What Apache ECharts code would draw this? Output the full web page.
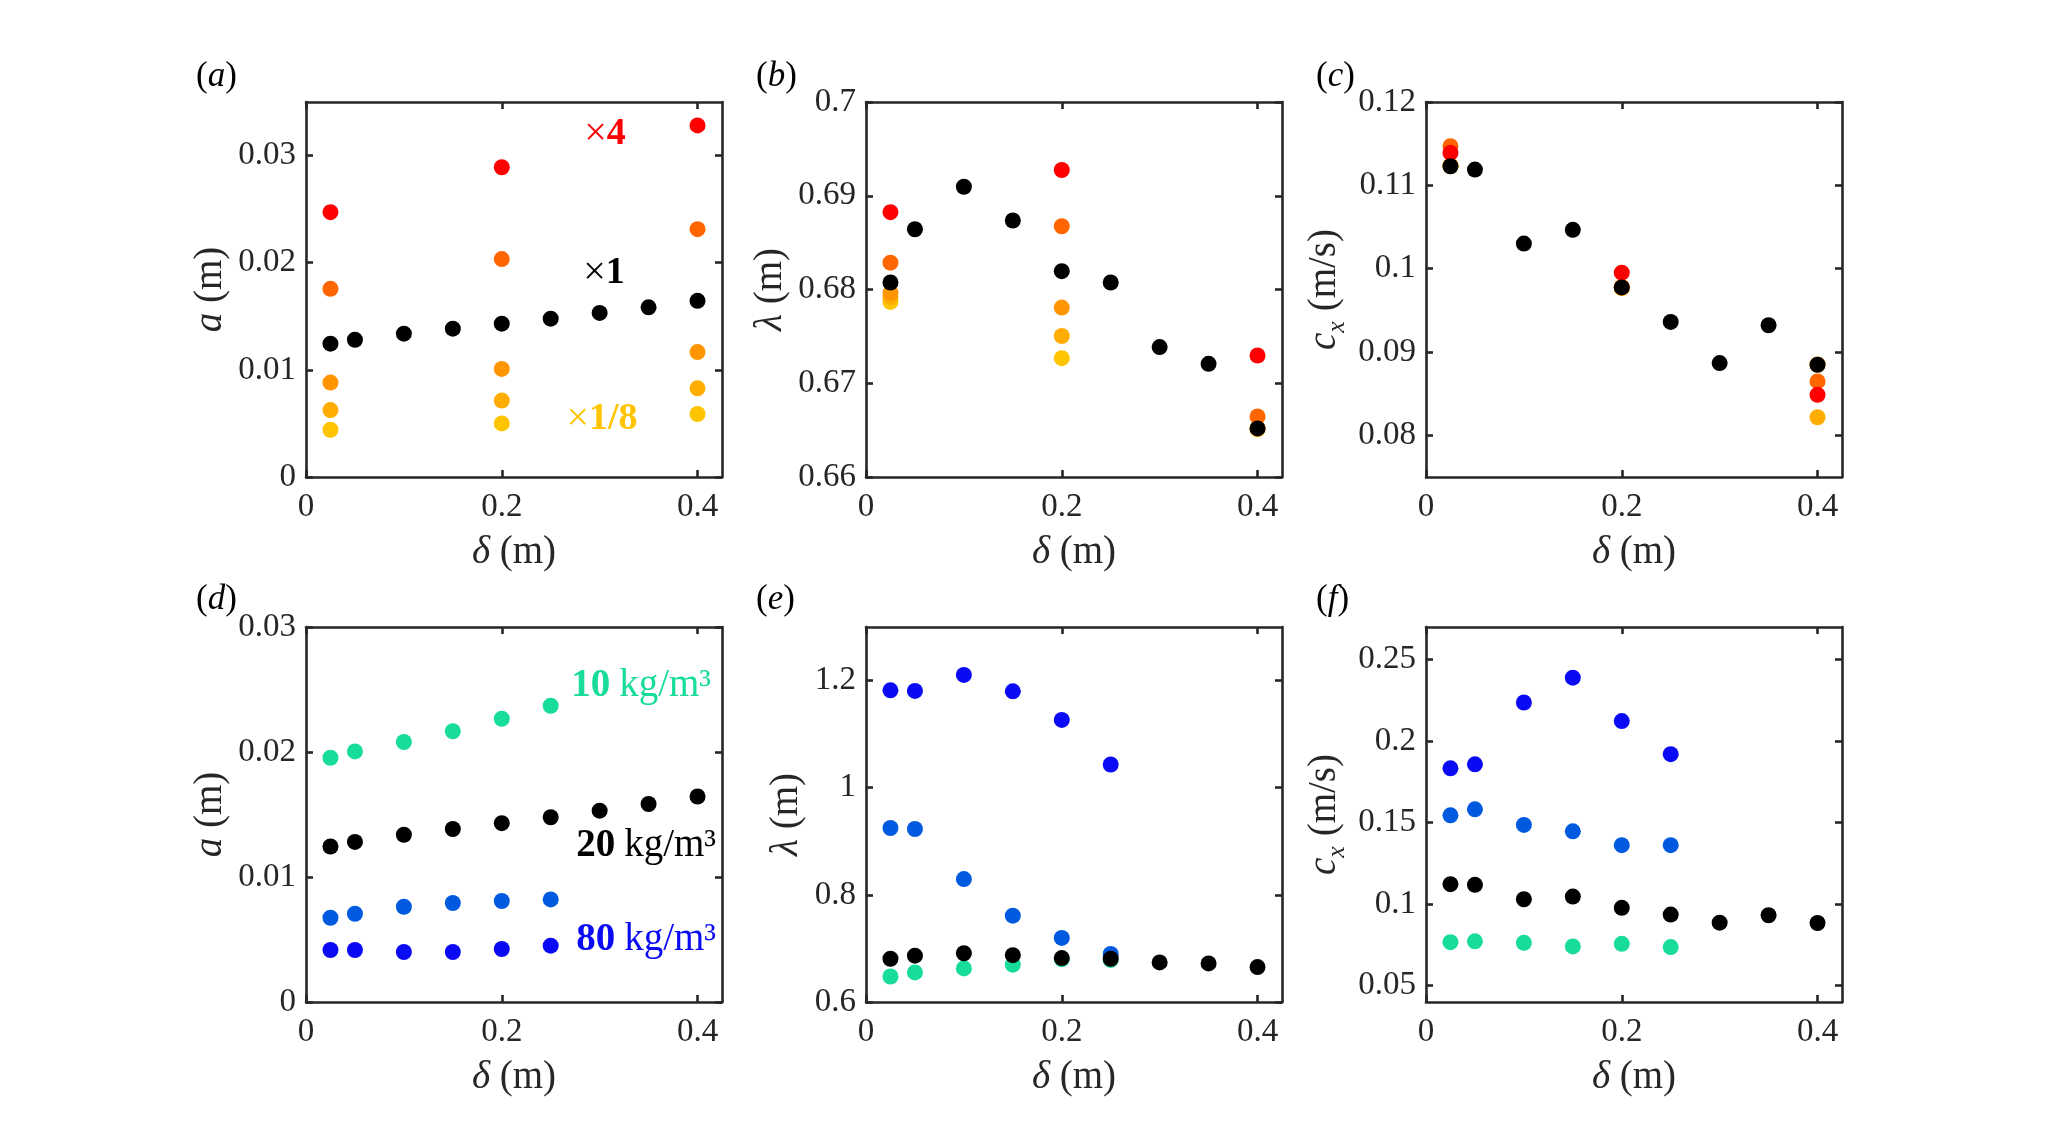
<!DOCTYPE html>
<html>
<head>
<meta charset="utf-8">
<script src="https://cdn.jsdelivr.net/npm/echarts@6.0.0/dist/echarts.min.js"></script>
<style>
  html, body { margin: 0; padding: 0; background: #fff; }
  #chart { width: 2069px; height: 1146px; }
</style>
</head>
<body>
<div id="chart"></div>
<script>
// delta (m) positions
const deltaAll = [0.025, 0.05, 0.1, 0.15, 0.2, 0.25, 0.3, 0.35, 0.4];
const deltaScaled = [0.025, 0.2, 0.4];
const deltaDensity = [0.025, 0.05, 0.1, 0.15, 0.2, 0.25];

// (a) amplitude a (m), scaled runs
const aBase = [0.01244, 0.01281, 0.01338, 0.01384, 0.01431, 0.01478, 0.01531, 0.01584, 0.01644];
const aX4 = [0.02472, 0.02891, 0.03281];
const aX2 = [0.01756, 0.02034, 0.02313];
const aX1_2 = [0.00881, 0.01009, 0.01166];
const aX1_4 = [0.00625, 0.00713, 0.00828];
const aX1_8 = [0.00441, 0.00500, 0.00588];

// (b) wavelength lambda (m)
const lamBase = [0.68075, 0.68643, 0.69096, 0.68736, 0.68196, 0.68075, 0.67386, 0.67207, 0.66518];
const lamX4 = [0.68825, 0.69275, 0.67296];
const lamX2 = [0.68286, 0.68675, 0.66646];
const lamX1_2 = [0.67964, 0.67807, 0.66520];
const lamX1_4 = [0.67921, 0.67504, 0.66515];
const lamX1_8 = [0.67868, 0.67268, 0.66510];

// (c) speed c_x (m/s)
const cBase = [0.11229, 0.11189, 0.10301, 0.10466, 0.09775, 0.09361, 0.08867, 0.09321, 0.08847];
const cX4 = [0.11390, 0.09952, 0.08486];
const cX2 = [0.11470, 0.09780, 0.08647];
const cX1_2 = [0.11235, 0.09772, 0.08850];
const cX1_4 = [0.11232, 0.09770, 0.08217];
const cX1_8 = [0.11230, 0.09768, 0.08848];

// (d)-(f) density runs, 20 kg/m3 is the base run
const aD10 = [0.01954, 0.02005, 0.02080, 0.02166, 0.02266, 0.02370];
const aD40 = [0.00674, 0.00706, 0.00762, 0.00792, 0.00808, 0.00821];
const aD80 = [0.00416, 0.00416, 0.00400, 0.00400, 0.00424, 0.00451];

const lamD10 = [0.6476, 0.6552, 0.6627, 0.6696, 0.6800, 0.6785];
const lamD40 = [0.9248, 0.9229, 0.8295, 0.7611, 0.7197, 0.6897];
const lamD80 = [1.1818, 1.1806, 1.2106, 1.1800, 1.1266, 1.0433];

const cD10 = [0.0767, 0.0772, 0.0763, 0.0741, 0.0757, 0.0737];
const cD40 = [0.1545, 0.1582, 0.1486, 0.1447, 0.1362, 0.1362];
const cD80 = [0.1833, 0.1858, 0.2237, 0.2389, 0.2123, 0.1920];

// tick values
const xTicks = [0, 0.2, 0.4];
const yTicksA = [0, 0.01, 0.02, 0.03];
const yTicksB = [0.66, 0.67, 0.68, 0.69, 0.7];
const yTicksC = [0.08, 0.09, 0.1, 0.11, 0.12];
const yTicksD = [0, 0.01, 0.02, 0.03];
const yTicksE = [0.6, 0.8, 1, 1.2];
const yTicksF = [0.05, 0.1, 0.15, 0.2, 0.25];

const FONT = 'Liberation Serif';
const AX = '#262626';
const col = {
  x4: '#ff0000', x2: '#ff6600', x1: '#000000', x1_2: '#ff9500', x1_4: '#ffad00', x1_8: '#ffc400',
  d10: '#17dc9a', d40: '#005ae0', d80: '#0a0af5'
};

const lefts = [306, 866, 1426];
const tops = [102, 627];
const W = 416, H = 375;

const panels = [
  { ymin: 0, ymax: 0.035, ticks: yTicksA, name: '{i|a} (m)', gap: 76 },
  { ymin: 0.66, ymax: 0.70, ticks: yTicksB, name: '{i|λ} (m)', gap: 76 },
  { ymin: 0.075, ymax: 0.12, ticks: yTicksC, name: '{i|c}{sub|x} (m/s)', gap: 76 },
  { ymin: 0, ymax: 0.03, ticks: yTicksD, name: '{i|a} (m)', gap: 76 },
  { ymin: 0.6, ymax: 1.3, ticks: yTicksE, name: '{i|λ} (m)', gap: 60 },
  { ymin: 0.04, ymax: 0.27, ticks: yTicksF, name: '{i|c}{sub|x} (m/s)', gap: 76 }
];

const NS = 39;
const nameRich = {
  i: { fontFamily: FONT, fontSize: NS, fontStyle: 'italic', color: AX },
  sub: { fontFamily: FONT, fontSize: 26, fontStyle: 'italic', color: AX, padding: [24, 0, 0, 0], verticalAlign: 'bottom' }
};

const fmt = v => String(+v.toFixed(4));

let grids = [], xAxes = [], yAxes = [];
panels.forEach((p, k) => {
  grids.push({ left: lefts[k % 3], top: tops[Math.floor(k / 3)], width: W, height: H, containLabel: false, outerBoundsMode: 'none' });
  const line = { show: true, onZero: false, lineStyle: { color: AX, width: 2.6 } };
  const tick = (vals) => ({ show: true, inside: true, length: 7, customValues: vals, lineStyle: { color: AX, width: 2.6 } });
  xAxes.push({
    type: 'value', gridIndex: k, min: 0, max: 0.425, position: 'bottom',
    axisLine: line, axisTick: tick(xTicks), splitLine: { show: false },
    axisLabel: { customValues: xTicks, formatter: fmt, margin: 14, fontFamily: FONT, fontSize: 33, color: AX },
    name: '{i|δ} (m)', nameLocation: 'middle', nameGap: 56,
    nameTextStyle: { fontFamily: FONT, fontSize: NS, color: AX, rich: nameRich }
  });
  xAxes.push({
    type: 'value', gridIndex: k, min: 0, max: 0.425, position: 'top',
    axisLine: line, axisTick: tick(xTicks), splitLine: { show: false }, axisLabel: { show: false }
  });
  yAxes.push({
    type: 'value', gridIndex: k, min: p.ymin, max: p.ymax, position: 'left',
    axisLine: line, axisTick: tick(p.ticks), splitLine: { show: false },
    axisLabel: { customValues: p.ticks, formatter: fmt, margin: 10, fontFamily: FONT, fontSize: 33, color: AX },
    name: p.name, nameLocation: 'middle', nameGap: p.gap,
    nameTextStyle: { fontFamily: FONT, fontSize: NS, color: AX, rich: nameRich }
  });
  yAxes.push({
    type: 'value', gridIndex: k, min: p.ymin, max: p.ymax, position: 'right',
    axisLine: line, axisTick: tick(p.ticks), splitLine: { show: false }, axisLabel: { show: false }
  });
});

const zip = (xs, ys) => xs.map((x, i) => [x, ys[i]]);
const dots = (k, xs, ys, color, name) => ({
  type: 'scatter', name, xAxisIndex: 2 * k, yAxisIndex: 2 * k,
  data: zip(xs, ys), symbolSize: 16, itemStyle: { color, opacity: 1 }, silent: true
});

const series = [];
// top row: scaled runs, base run (black) drawn last
[[aX1_8, aX1_4, aX1_2, aX2, aX4, aBase],
 [lamX1_8, lamX1_4, lamX1_2, lamX2, lamX4, lamBase],
 [cX1_8, cX1_4, cX1_2, cX2, cX4, cBase]].forEach((set, k) => {
  const cs = [col.x1_8, col.x1_4, col.x1_2, col.x2, col.x4, col.x1];
  const nm = ['×1/8', '×1/4', '×1/2', '×2', '×4', '×1'];
  set.forEach((ys, j) => series.push(dots(k, j === 5 ? deltaAll : deltaScaled, ys, cs[j], nm[j])));
});
// bottom row: densities
[[aD10, aD40, aD80, aBase],
 [lamD10, lamD40, lamD80, lamBase],
 [cD10, cD40, cD80, cBase]].forEach((set, k) => {
  const cs = [col.d10, col.d40, col.d80, col.x1];
  const nm = ['10 kg/m3', '40 kg/m3', '80 kg/m3', '20 kg/m3'];
  set.forEach((ys, j) => series.push(dots(k + 3, j === 3 ? deltaAll : deltaDensity, ys, cs[j], nm[j])));
});

// annotations
const txt = (x, y, text, color, align, rich, size) => ({
  type: 'text', x, y, silent: true,
  style: { text, fill: color, fontFamily: FONT, fontSize: size || 36, align: align, verticalAlign: 'middle', rich }
});
const bold = (c, s) => ({ fontFamily: FONT, fontSize: s, fontWeight: 'bold', fill: c, color: c });
const norm = (c, s) => ({ fontFamily: FONT, fontSize: s, fill: c, color: c });
const it = { fontFamily: FONT, fontSize: 35, fontStyle: 'italic', fill: '#000', color: '#000' };

const graphic = [
  txt(605, 134, '{n|×}{b|4}', col.x4, 'center', { n: norm(col.x4, 40), b: bold(col.x4, 38) }),
  txt(604, 273, '{n|×}{b|1}', '#000', 'center', { n: norm('#000', 40), b: bold('#000', 38) }),
  txt(602, 419, '{n|×}{b|1/8}', col.x1_8, 'center', { n: norm(col.x1_8, 40), b: bold(col.x1_8, 38) }),
  txt(711, 686, '{b|10} {n|kg/m³}', col.d10, 'right', { n: norm(col.d10, 39), b: bold(col.d10, 39) }),
  txt(716, 846, '{b|20} {n|kg/m³}', '#000', 'right', { n: norm('#000', 39), b: bold('#000', 39) }),
  txt(716, 940, '{b|80} {n|kg/m³}', col.d80, 'right', { n: norm(col.d80, 39), b: bold(col.d80, 39) })
];
['a', 'b', 'c', 'd', 'e', 'f'].forEach((l, k) => {
  graphic.push(txt(lefts[k % 3] - 110, k < 3 ? 77 : 600, '({i|' + l + '})', '#000', 'left',
    { i: it }, 35));
});

const myChart = echarts.init(document.getElementById('chart'), null, { renderer: 'canvas' });
myChart.setOption({
  backgroundColor: '#fff',
  animation: false,
  grid: grids,
  xAxis: xAxes,
  yAxis: yAxes,
  series: series,
  graphic: graphic
});
</script>
</body>
</html>
